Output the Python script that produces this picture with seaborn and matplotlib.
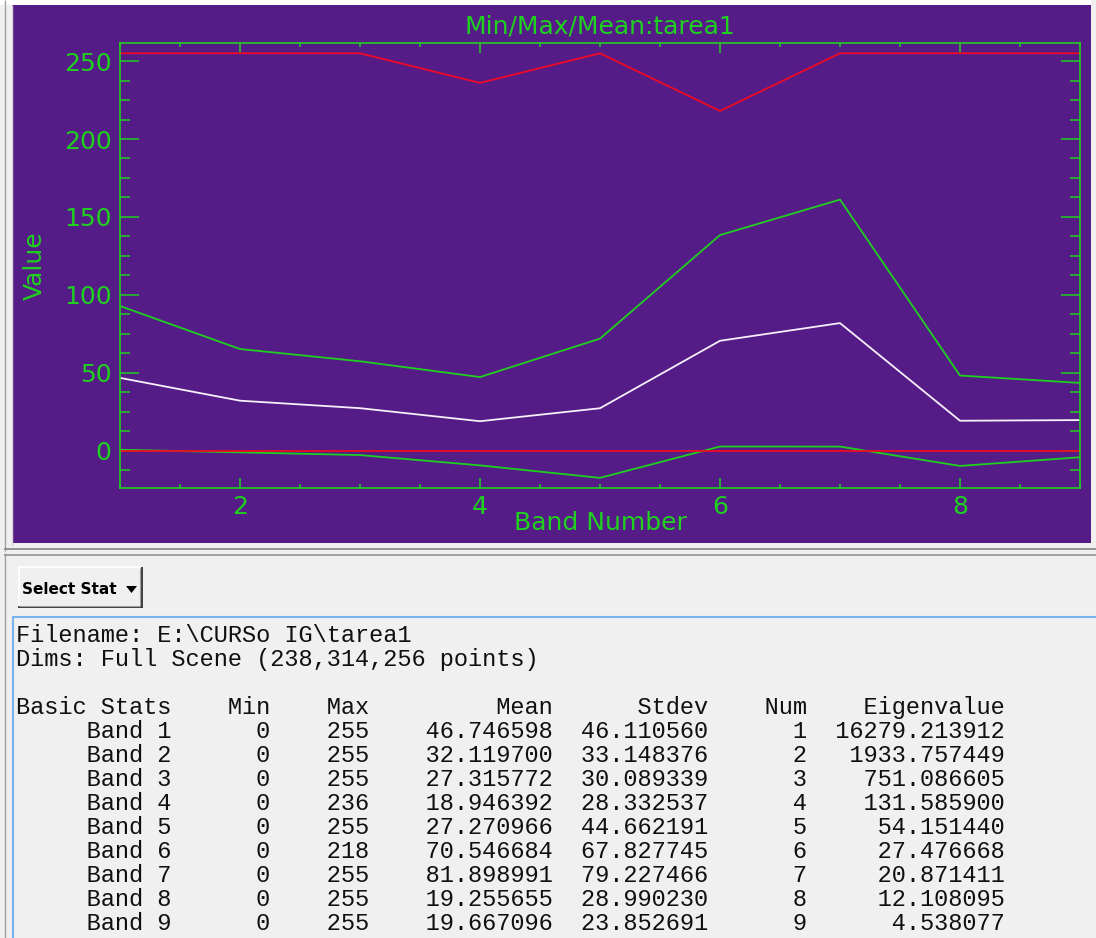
import numpy as np
import pandas as pd
import matplotlib
matplotlib.use("Agg")
import matplotlib.pyplot as plt
from matplotlib.patches import Rectangle, Polygon
from matplotlib.ticker import MultipleLocator
import seaborn as sns

# ---- band statistics -------------------------------------------------------
bands = [1, 2, 3, 4, 5, 6, 7, 8, 9]
band_min = [0, 0, 0, 0, 0, 0, 0, 0, 0]
band_max = [255, 255, 255, 236, 255, 218, 255, 255, 255]
band_mean = [46.746598, 32.119700, 27.315772, 18.946392, 27.270966,
             70.546684, 81.898991, 19.255655, 19.667096]
band_stdev = [46.110560, 33.148376, 30.089339, 28.332537, 44.662191,
              67.827745, 79.227466, 28.990230, 23.852691]
eigen_num = [1, 2, 3, 4, 5, 6, 7, 8, 9]
eigenvalues = [16279.213912, 1933.757449, 751.086605, 131.585900, 54.151440,
               27.476668, 20.871411, 12.108095, 4.538077]

file_line = r"Filename: E:\CURSo IG\tarea1"
dims_line = "Dims: Full Scene (238,314,256 points)"
plot_title = "Min/Max/Mean:tarea1"
x_title = "Band Number"
y_title = "Value"

# ---- colours ---------------------------------------------------------------
PURPLE = "#551c88"
GREEN = "#1fd01f"
RED = "#ee0a24"
WHITE = "#f6f0fa"
PANEL = "#f0f0f0"

W, H = 1096, 938
fig = plt.figure(figsize=(W / 100, H / 100), dpi=100, facecolor=PANEL)

# full-figure canvas in pixel units for the window chrome and the text report
canvas = fig.add_axes([0, 0, 1, 1], zorder=0)
canvas.set_xlim(0, W)
canvas.set_ylim(H, 0)
canvas.axis("off")


def rect(x0, y0, x1, y1, color, z=1):
    canvas.add_patch(Rectangle((x0, y0), x1 - x0, y1 - y0, facecolor=color,
                               edgecolor="none", zorder=z))


def hline(y, x0, x1, color, lw=1.0, z=2):
    canvas.plot([x0, x1], [y, y], color=color, lw=lw, zorder=z,
                solid_capstyle="butt")


def vline(x, y0, y1, color, lw=1.0, z=2):
    canvas.plot([x, x], [y0, y1], color=color, lw=lw, zorder=z,
                solid_capstyle="butt")


# upper draw-widget frame
rect(0, 0, 1091, 5, "white")
rect(12, 5, 1091, 543, PURPLE)
vline(4.5, 0, 551, "#a0a0a0", 1.0)
vline(11.5, 5, 546, "#d8d8d8", 1.0)
hline(549, 4, W, "#8c8c8c", 1.3)
hline(555, 4, W, "#9a9a9a", 1.3)
vline(4.5, 553, H, "#a0a0a0", 1.0)

# "Select Stat" drop-down button
rect(18, 567, 141, 608, "#f0f0f0")
hline(567.5, 18, 141, "white", 1.3)
vline(18.5, 567, 608, "white", 1.3)
hline(607.5, 18, 142, "#303030", 1.3)
vline(141.5, 567, 608, "#303030", 1.3)
hline(606, 19, 140, "#a0a0a0", 0.8)
vline(140, 568, 606, "#a0a0a0", 0.8)
canvas.text(22, 589, "Select Stat", fontsize=11, fontweight="bold",
            family=["Liberation Sans Narrow", "DejaVu Sans"],
            ha="left", va="center", color="black", zorder=3)
canvas.add_patch(Polygon([[126, 586], [137, 586], [131.5, 593]],
                         closed=True, facecolor="black", edgecolor="none",
                         zorder=3))

# text report box
hline(617, 12, W, "#7ab4ec", 1.5)
vline(12.5, 617, H, "#7ab4ec", 1.5)

report = [file_line, dims_line, "",
          f"{'Basic Stats':<11}{'Min':>7}{'Max':>7}{'Mean':>13}"
          f"{'Stdev':>11}{'Num':>7}{'Eigenvalue':>14}"]
for b, mn, mx, mu, sd, n, ev in zip(bands, band_min, band_max, band_mean,
                                    band_stdev, eigen_num, eigenvalues):
    report.append(f"{'Band %d' % b:>11}{mn:>7d}{mx:>7d}{mu:>13.6f}"
                  f"{sd:>11.6f}{n:>7d}{ev:>14.6f}")

for i, line in enumerate(report):
    canvas.text(16, 635 + 24 * i + 7, line, fontsize=17,
                family="Liberation Mono", ha="left", va="baseline",
                color="#101010", zorder=3)

# ---- min / max / mean plot -------------------------------------------------
stats = pd.DataFrame({
    "band": bands,
    "Min": band_min,
    "Max": band_max,
    "Mean": band_mean,
    "Mean+Stdev": np.array(band_mean) + np.array(band_stdev),
    "Mean-Stdev": np.array(band_mean) - np.array(band_stdev),
})

ax = fig.add_axes([120 / W, 1 - 488 / H, 960 / W, 445 / H], zorder=1)
ax.set_facecolor(PURPLE)

for col, color in [("Mean+Stdev", GREEN), ("Mean-Stdev", GREEN),
                   ("Mean", WHITE), ("Min", RED), ("Max", RED)]:
    sns.lineplot(data=stats, x="band", y=col, color=color, lw=1.3,
                 ax=ax, legend=False)

ax.set_xlim(1, 9)
ax.set_ylim(-23.9, 261.6)
ax.xaxis.set_major_locator(MultipleLocator(2))
ax.xaxis.set_minor_locator(MultipleLocator(0.5))
ax.yaxis.set_major_locator(MultipleLocator(50))
ax.yaxis.set_minor_locator(MultipleLocator(12.5))

for side in ax.spines.values():
    side.set_color(GREEN)
    side.set_linewidth(1.2)

ax.tick_params(axis="x", which="major", direction="in", length=7.2,
               width=1.1, color=GREEN, labelcolor=GREEN, labelsize=18,
               pad=5, top=True, bottom=True)
ax.tick_params(axis="x", which="minor", direction="in", length=3.2,
               width=1.1, color=GREEN, top=True, bottom=True)
ax.tick_params(axis="y", which="major", direction="in", length=13.9,
               width=1.1, color=GREEN, labelcolor=GREEN, labelsize=18,
               pad=6, left=True, right=True)
ax.tick_params(axis="y", which="minor", direction="in", length=7.2,
               width=1.1, color=GREEN, left=True, right=True)

ax.set_title(plot_title, color=GREEN, fontsize=18, pad=7)
ax.set_xlabel(x_title, color=GREEN, fontsize=18, va="center")
ax.xaxis.set_label_coords(0.5, -(523 - 488) / 445)
ax.set_ylabel(y_title, color=GREEN, fontsize=18, va="center", ha="center")
ax.yaxis.set_label_coords(-(120 - 35) / 960, 0.5)

fig.savefig("out.png", dpi=100, facecolor=PANEL)
